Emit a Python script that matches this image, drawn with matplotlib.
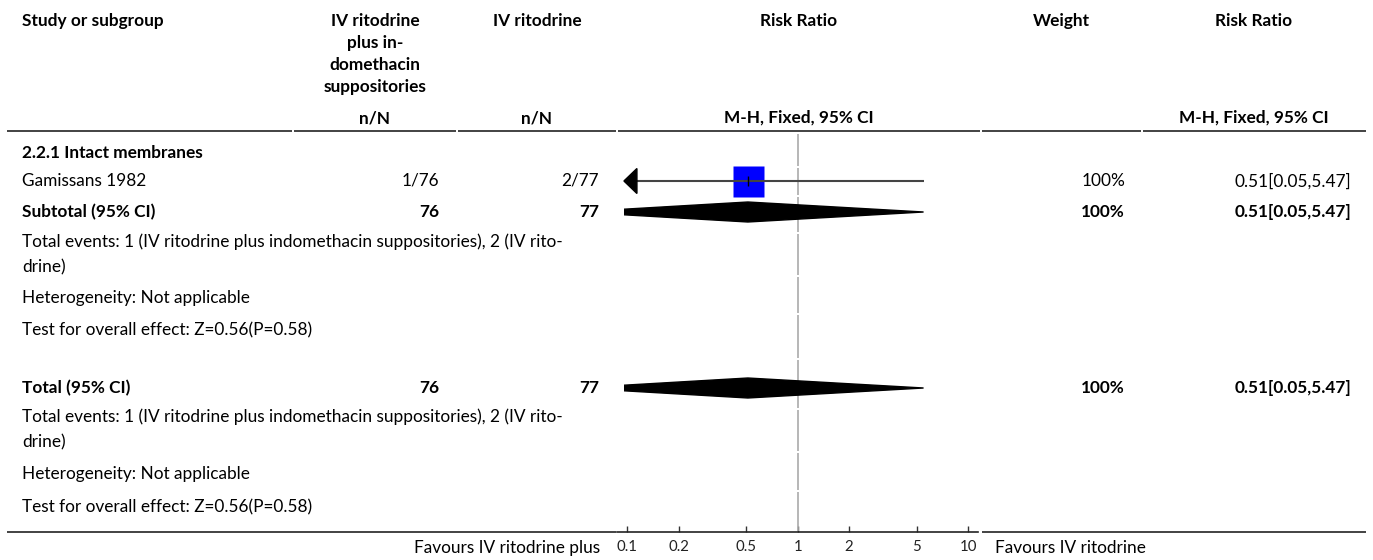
import numpy as np
import matplotlib
matplotlib.use("Agg")
import matplotlib.pyplot as plt
from matplotlib.patches import Rectangle, Polygon

plt.rcParams['font.family'] = ['Lato', 'DejaVu Sans']

# ---- data ----
study_names = ["Gamissans 1982"]
events_trt = [1]
n_trt = [76]
events_ctl = [2]
n_ctl = [77]
study_rr = [0.51]
study_lo = [0.05]
study_hi = [5.47]
study_weight = [100]

sub_label = "Subtotal (95% CI)"
sub_n = (76, 77)
sub_rr, sub_lo, sub_hi = 0.51, 0.05, 5.47
sub_weight = 100

tot_label = "Total (95% CI)"
tot_n = (76, 77)
tot_rr, tot_lo, tot_hi = 0.51, 0.05, 5.47
tot_weight = 100

group_title = "2.2.1 Intact membranes"
foot_lines = [
    "Total events: 1 (IV ritodrine plus indomethacin suppositories), 2 (IV rito-\ndrine)",
    "Heterogeneity: Not applicable",
    "Test for overall effect: Z=0.56(P=0.58)",
]
tick_vals = [0.1, 0.2, 0.5, 1, 2, 5, 10]
tick_labels = ["0.1", "0.2", "0.5", "1", "2", "5", "10"]
fav_left = "Favours IV ritodrine plus"
fav_right = "Favours IV ritodrine"

# ---- layout (pixels) ----
W, H = 1373, 560
FS = 12.4
cols = [6, 293, 457, 617, 981, 1142, 1367]   # column boundaries
X_TEXT = 22
R1, R2, RW, RR = 439, 599, 1125, 1351       # right edges of value columns
C1, C2, CF, CW, CR = 375, 537, 799, 1061, 1254
Y_HEAD, Y_SUB, Y_LINE, Y_BOT = 21, 118, 131, 532
# row centres
y_group = 153
y_study = [181]
y_sub = 212
y_foot1 = [254.5, 298, 330]
y_tot = 388
y_foot2 = [429.5, 474, 507]

fig = plt.figure(figsize=(W / 100, H / 100), dpi=100)
bg = fig.add_axes([0, 0, 1, 1])
bg.set_xlim(0, W)
bg.set_ylim(H, 0)
bg.axis("off")


def t(x, y, s, ha="left", bold=False, **kw):
    bg.text(x, y, s, ha=ha, va="center", fontsize=kw.pop("fs", FS),
            fontweight="bold" if bold else "normal", color="black", **kw)


# header
t(X_TEXT, Y_HEAD, "Study or subgroup", bold=True)
bg.text(C1, Y_HEAD - 8, "IV ritodrine\nplus in-\ndomethacin\nsuppositories", ha="center",
        va="top", fontsize=FS, fontweight="bold", linespacing=1.45)
t(C2, Y_HEAD, "IV ritodrine", ha="center", bold=True)
t(CF, Y_HEAD, "Risk Ratio", ha="center", bold=True)
t(CW, Y_HEAD, "Weight", ha="center", bold=True)
t(CR, Y_HEAD, "Risk Ratio", ha="center", bold=True)
t(C1, Y_SUB, "n/N", ha="center", bold=True)
t(C2, Y_SUB, "n/N", ha="center", bold=True)
t(CF, Y_SUB, "M-H, Fixed, 95% CI", ha="center", bold=True)
t(CR, Y_SUB, "M-H, Fixed, 95% CI", ha="center", bold=True)

# separator lines (segmented per column)
for a, b in zip(cols[:-1], cols[1:]):
    bg.plot([a + 0.6, b - 0.6], [Y_LINE, Y_LINE], color="#222", lw=1.2, solid_capstyle="butt")
for a, b in [(cols[0], cols[3]), (cols[4], cols[6])]:
    bg.plot([a + 0.6, b - 0.6], [Y_BOT, Y_BOT], color="#222", lw=1.2, solid_capstyle="butt")

# group + study rows
t(X_TEXT, y_group, group_title, bold=True)
for i, name in enumerate(study_names):
    y = y_study[i]
    t(X_TEXT, y, name)
    t(R1, y, f"{events_trt[i]}/{n_trt[i]}", ha="right")
    t(R2, y, f"{events_ctl[i]}/{n_ctl[i]}", ha="right")
    t(RW, y, f"{study_weight[i]}%", ha="right")
    t(RR, y, f"{study_rr[i]:.2f}[{study_lo[i]:.2f},{study_hi[i]:.2f}]", ha="right")

for lab, yy, n, w, r, lo, hi in [(sub_label, y_sub, sub_n, sub_weight, sub_rr, sub_lo, sub_hi),
                                 (tot_label, y_tot, tot_n, tot_weight, tot_rr, tot_lo, tot_hi)]:
    t(X_TEXT, yy, lab, bold=True)
    t(R1, yy, str(n[0]), ha="right", bold=True)
    t(R2, yy, str(n[1]), ha="right", bold=True)
    t(RW, yy, f"{w}%", ha="right", bold=True)
    t(RR, yy, f"{r:.2f}[{lo:.2f},{hi:.2f}]", ha="right", bold=True)

for ys in (y_foot1, y_foot2):
    for s, yy in zip(foot_lines, ys):
        bg.text(X_TEXT, yy, s, ha="left", va="center", fontsize=FS, linespacing=1.65)

# ---- forest axis ----
AX_L, AX_R = 617, 978
ax = fig.add_axes([AX_L / W, (H - Y_BOT) / H, (AX_R - AX_L) / W, (Y_BOT - Y_LINE) / H])
ax.set_xscale("log")
ax.set_xlim(0.0871, 11.41)
ax.set_ylim(Y_BOT, Y_LINE)
ax.patch.set_visible(False)
for s in ("top", "left", "right"):
    ax.spines[s].set_visible(False)
ax.spines["bottom"].set_color("#222")
ax.spines["bottom"].set_linewidth(1.2)
ax.set_yticks([])
ax.xaxis.set_minor_locator(matplotlib.ticker.NullLocator())
ax.set_xticks(tick_vals)
ax.set_xticklabels(tick_labels)
ax.tick_params(axis="x", direction="in", length=4.5, width=1, color="#333",
               labelsize=10.8, labelcolor="#222", pad=5.5)

DEC = 170.5  # pixels per decade
CLIP_LO = 10 ** (-1 - 3.3 / DEC)
CLIP_HI = 11.41

# line of no effect, with small breaks between rows
rows = [y_group] + y_study + [y_sub] + y_foot1 + [y_tot] + y_foot2
edges = [Y_LINE + 2] + [(a + b) / 2 for a, b in zip(rows[:-1], rows[1:])] + [Y_BOT]
for a, b in zip(edges[:-1], edges[1:]):
    ax.plot([1, 1], [a + 1, b - 1], color="#aaa", lw=1.2, solid_capstyle="butt")

clip = Rectangle((CLIP_LO, Y_LINE), CLIP_HI - CLIP_LO, Y_BOT - Y_LINE, transform=ax.transData)

for i in range(len(study_names)):
    y = y_study[i]
    lo = max(study_lo[i], CLIP_LO)
    side = 31 * np.sqrt(study_weight[i] / 100)
    ax.plot(study_rr[i], y, marker="s", ms=side * 0.72, color="#0000ff", mec="none", zorder=3)
    ax.plot([lo, study_hi[i]], [y, y], color="#444", lw=1.5, zorder=4, solid_capstyle="butt")
    ax.plot(study_rr[i], y, marker="|", ms=7, mew=1, color="black", zorder=5)
    if study_lo[i] < CLIP_LO:
        base = CLIP_LO * 10 ** (13 / DEC)
        ax.add_patch(Polygon([(CLIP_LO, y), (base, y - 12.5), (base, y + 12.5)],
                             closed=True, color="black", zorder=5))

for yy, r, lo, hi in [(y_sub, sub_rr, sub_lo, sub_hi), (y_tot, tot_rr, tot_lo, tot_hi)]:
    d = Polygon([(lo, yy), (r, yy - 10), (hi, yy), (r, yy + 10)], closed=True,
                color="black", zorder=3)
    ax.add_patch(d)
    d.set_clip_path(clip)

bg.text(600, 548, fav_left, ha="right", va="center", fontsize=FS)
bg.text(995, 548, fav_right, ha="left", va="center", fontsize=FS)

fig.savefig("out.png", dpi=100)
